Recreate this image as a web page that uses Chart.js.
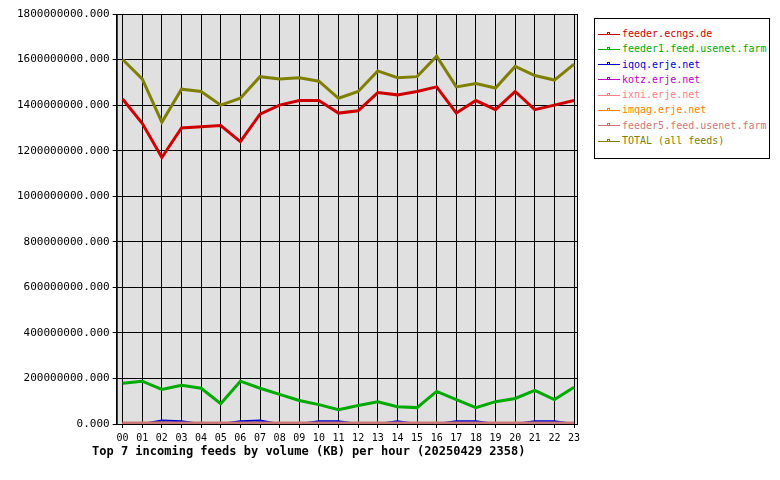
<!DOCTYPE html>
<html><head><meta charset="utf-8">
<script src="https://cdn.jsdelivr.net/npm/chart.js@4/dist/chart.umd.min.js"></script>
<style>
body{margin:0;background:#fff;font-family:"DejaVu Sans Mono",monospace;}
#wrap{position:relative;width:780px;height:480px;}
#c{position:absolute;left:0;top:0;}
#legend{position:absolute;left:594px;top:18px;width:174px;border:1px solid #000;padding:7px 0 10px 0;font-size:10px;background:#fff;}
#legend div{height:15.3px;line-height:15px;white-space:nowrap;padding-left:3px;}
#legend span.k{display:inline-block;width:22px;height:1px;vertical-align:middle;margin-right:2px;position:relative;}
#legend span.k i{position:absolute;left:9px;top:-2px;width:3px;height:3px;border:1px solid;box-sizing:border-box;}
#title{position:absolute;left:92px;top:444px;font-size:12px;font-weight:bold;}
</style></head><body>
<div id="wrap"><canvas id="c" width="590" height="480"></canvas><div id="legend"></div>
<div id="title">Top 7 incoming feeds by volume (KB) per hour (20250429 2358)</div></div>
<script>
const hours = ['00','01','02','03','04','05','06','07','08','09','10','11','12','13','14','15','16','17','18','19','20','21','22','23'];
const names = ['feeder.ecngs.de','feeder1.feed.usenet.farm','iqoq.erje.net','kotz.erje.net','ixni.erje.net','imqag.erje.net','feeder5.feed.usenet.farm','TOTAL (all feeds)'];
const colors = ['#cc0000','#00aa00','#0000cc','#bb00bb','#ff8080','#ff8000','#cc7777','#808000'];
const ecngs = [1.427e9,1.32e9,1.17e9,1.30e9,1.305e9,1.31e9,1.24e9,1.36e9,1.40e9,1.42e9,1.42e9,1.365e9,1.375e9,1.455e9,1.445e9,1.46e9,1.48e9,1.365e9,1.42e9,1.38e9,1.46e9,1.38e9,1.40e9,1.42e9];
const usenetFarm = [1.79e8,1.88e8,1.52e8,1.70e8,1.57e8,0.89e8,1.88e8,1.57e8,1.30e8,1.03e8,0.85e8,0.63e8,0.81e8,0.98e8,0.76e8,0.72e8,1.43e8,1.07e8,0.72e8,0.98e8,1.12e8,1.48e8,1.07e8,1.61e8];
const iqoq = [0,0,1.5e7,1.2e7,0,0,1.2e7,1.5e7,0,0,1.2e7,1.2e7,0,0,1.2e7,0,0,1.2e7,1.2e7,0,0,1.2e7,1.2e7,0];
const kotz = [2e6,2e6,2e6,2e6,2e6,2e6,2e6,2e6,2e6,2e6,2e6,2e6,2e6,2e6,2e6,2e6,2e6,2e6,2e6,2e6,2e6,2e6,2e6,2e6];
const ixni = [1e6,1e6,1e6,1e6,1e6,1e6,1e6,1e6,1e6,1e6,1e6,1e6,1e6,1e6,1e6,1e6,1e6,1e6,1e6,1e6,1e6,1e6,1e6,1e6];
const imqag = [3e6,4e6,5e6,4e6,3e6,3e6,3e6,3e6,3e6,3e6,3e6,3e6,3e6,3e6,3e6,3e6,3e6,3e6,3e6,3e6,3e6,3e6,3e6,3e6];
const feeder5 = [2e6,2e6,2e6,2e6,2e6,2e6,2e6,2e6,2e6,2e6,2e6,2e6,2e6,2e6,2e6,2e6,2e6,2e6,2e6,2e6,2e6,2e6,2e6,2e6];
const total = [1.60e9,1.515e9,1.325e9,1.47e9,1.46e9,1.40e9,1.43e9,1.525e9,1.515e9,1.52e9,1.505e9,1.43e9,1.46e9,1.55e9,1.52e9,1.525e9,1.615e9,1.48e9,1.495e9,1.475e9,1.57e9,1.53e9,1.51e9,1.58e9];
const series = [ecngs,usenetFarm,iqoq,kotz,ixni,imqag,feeder5,total];
const widths = [3,3,2,2,2,2,4,3];

const lg = document.getElementById('legend');
names.forEach((n,i)=>{
  const d=document.createElement('div');
  d.innerHTML='<span class="k" style="background:'+colors[i]+'"><i style="border-color:'+colors[i]+'"></i></span><span style="color:'+colors[i]+'">'+n+'</span>';
  lg.appendChild(d);
});

const bgPlugin = {id:'bg', beforeDraw(chart){
  const a=chart.chartArea, c=chart.ctx;
  c.save(); c.fillStyle='#e0e0e0'; c.fillRect(a.left,a.top,a.right-a.left,a.bottom-a.top); c.restore();
}, afterDraw(chart){
  const a=chart.chartArea, c=chart.ctx;
  c.save(); c.strokeStyle='#000'; c.lineWidth=1; c.strokeRect(a.left+0.5,a.top+0.5,a.right-a.left,a.bottom-a.top); c.restore();
}};

new Chart(document.getElementById('c'), {
  type:'line',
  data:{datasets: series.map((s,i)=>({
    label:names[i], data:s.map((v,j)=>({x:j,y:v})),
    borderColor:colors[i], borderWidth:widths[i], pointRadius:0, tension:0, order: names.length-i
  }))},
  options:{
    responsive:false, animation:false,
    layout:{padding:{left:14,right:13,top:14,bottom:32}},
    plugins:{legend:{display:false}, tooltip:{enabled:false}},
    scales:{
      x:{type:'linear', min:-0.3, max:23.15,
        afterBuildTicks(ax){ax.ticks=hours.map((h,i)=>({value:i}));},
        ticks:{callback:(v)=>hours[v], color:'#000', font:{family:'DejaVu Sans Mono',size:10}, maxRotation:0, autoSkip:false, padding:4},
        grid:{color:'#000', drawTicks:true, tickLength:4}, border:{color:'#000'}},
      y:{min:0, max:1.8e9,
        ticks:{stepSize:2e8, callback:(v)=>v.toFixed(3), color:'#000', font:{family:'DejaVu Sans Mono',size:11}},
        grid:{color:'#000', tickLength:4}, border:{color:'#000'}}
    }
  },
  plugins:[bgPlugin]
});
</script></body></html>
